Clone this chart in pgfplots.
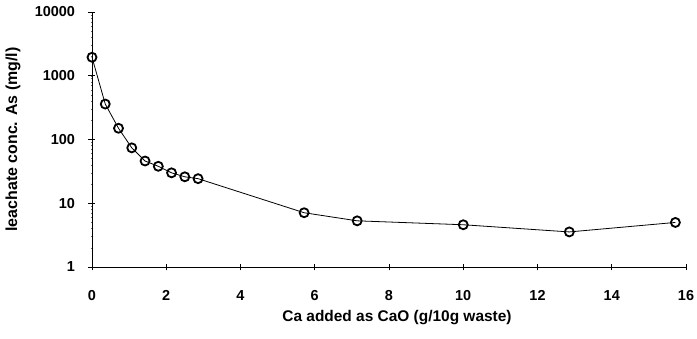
\documentclass[border=0pt]{standalone}
\usepackage{pgfplots}
\pgfplotsset{compat=1.18}
\usepackage{fontspec}
\setmainfont{Liberation Sans}
\begin{document}
\begin{tikzpicture}
\useasboundingbox (-92bp,-72bp) rectangle (605bp,267bp);
\begin{axis}[
  scale only axis, width=594bp, height=255bp,
  ymode=log, xmin=0, xmax=16, ymin=1, ymax=10000,
  axis x line=bottom, axis y line=left,
  axis line style={-, line width=0.9bp, black},
  xtick={0,2,4,6,8,10,12,14,16},
  xticklabels={0,2,4,6,8,10,12,14,16},
  ytick={1,10,100,1000,10000},
  yticklabels={1,10,100,1000,10000},
  tick align=center, major tick length=7bp, minor tick length=2bp,
  tick style={line width=0.8bp, black},
  minor tick style={line width=0.4bp, black!60},
  font=\fontsize{14.5}{16}\selectfont\bfseries,
  xticklabel style={anchor=center, yshift=-25bp},
  yticklabel style={anchor=east, xshift=-10bp},
  xlabel={Ca added as CaO (g/10g waste)},
  ylabel={leachate conc. As (mg/l)},
  xlabel style={font=\fontsize{15.5}{17}\selectfont\bfseries, at={(axis description cs:0.5,0)}, anchor=center, yshift=-51bp, xshift=8bp},
  ylabel style={font=\fontsize{16}{18}\selectfont\bfseries, at={(axis description cs:0,0.5)}, anchor=center, yshift=79bp},
  clip=false,
]
\addplot[black, line width=0.8bp, mark=o, mark size=4.5bp,
  mark options={line width=1.8bp, fill=white}] coordinates {
  (0,1950) (0.357,360) (0.714,150) (1.071,74) (1.429,46) (1.786,38)
  (2.143,30) (2.5,26) (2.857,24.3) (5.714,7.1) (7.143,5.3) (10,4.6)
  (12.857,3.55) (15.714,5.0)
};
\end{axis}
\end{tikzpicture}
\end{document}
